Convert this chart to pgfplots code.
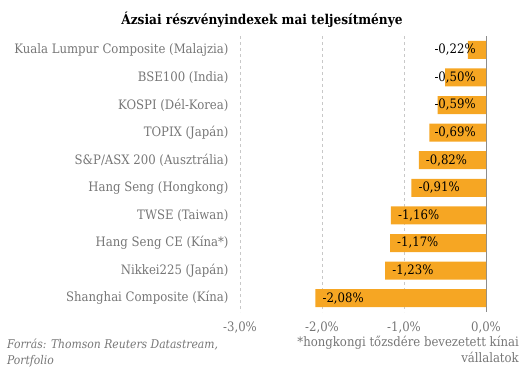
\documentclass[border=0pt]{standalone}
\usepackage{fontspec}
\setmainfont{DejaVu Serif Condensed}
\usepackage{pgfplots}
\pgfplotsset{compat=1.18}
\definecolor{barorange}{RGB}{246,166,35}
\definecolor{lblgray}{RGB}{118,118,118}
\definecolor{gridgray}{RGB}{200,200,200}
\newcommand{\zerolab}{0,0\%}
\begin{document}
\begin{tikzpicture}[x=1pt,y=1pt]
\path[use as bounding box] (0,0) rectangle (530,381);
\begin{axis}[
  at={(240pt,69pt)}, anchor=south west,
  scale only axis, width=246pt, height=276pt,
  xmin=-3, xmax=0, ymin=-0.5, ymax=9.5, y dir=reverse,
  axis line style={draw=none},
  xtick={-3,-2,-1}, xticklabels={{-3,0\%},{-2,0\%},{-1,0\%}},
  extra x ticks={0}, extra x tick labels={\zerolab},
  extra x tick style={grid style={solid, draw=gray!90, line width=0.8pt}},
  xmajorgrids, grid style={dashed, draw=gridgray, line width=0.6pt},
  major tick length=0pt,
  ytick={0,...,9},
  yticklabels={Kuala Lumpur Composite (Malajzia),BSE100 (India),KOSPI (Dél-Korea),TOPIX (Japán),S\&P/ASX 200 (Ausztrália),Hang Seng (Hongkong),TWSE (Taiwan),Hang Seng CE (Kína*),Nikkei225 (Japán),Shanghai Composite (Kína)},
  tick label style={font=\fontsize{13}{15}\selectfont, text=lblgray},
  yticklabel style={xshift=-8pt},
  xticklabel style={yshift=-6pt},
  clip=false,
]
\addplot[xbar, bar width=18pt, fill=barorange, draw=none, bar shift=0pt] coordinates {
  (-0.22,0) (-0.50,1) (-0.59,2) (-0.69,3) (-0.82,4) (-0.91,5) (-1.16,6) (-1.17,7) (-1.23,8) (-2.08,9)
};
\addplot[draw=none, mark=none, nodes near coords={\pgfplotspointmeta\%},
  point meta=explicit symbolic,
  every node near coord/.style={anchor=west, inner sep=0pt, font=\fontsize{13}{15}\selectfont, text=black}]
  table[meta=lab] {
  x y lab
  -0.63 0 -0,22
  -0.63 1 -0,50
  -0.63 2 -0,59
  -0.63 3 -0,69
  -0.735 4 -0,82
  -0.825 5 -0,91
  -1.075 6 -1,16
  -1.085 7 -1,17
  -1.145 8 -1,23
  -1.995 9 -2,08
};
\end{axis}
\node[font=\bfseries\fontsize{13.5}{16}\selectfont] at (262,361) {Ázsiai részvényindexek mai teljesítménye};
\node[anchor=north west, align=left, text=lblgray, font=\itshape\fontsize{12}{16}\selectfont, inner sep=0pt] at (7,42) {Forrás: Thomson Reuters Datastream,\\Portfolio};
\node[anchor=north east, align=right, text=lblgray, font=\fontsize{13}{16}\selectfont, inner sep=0pt] at (519,45) {*hongkongi tőzsdére bevezetett kínai\\vállalatok};
\end{tikzpicture}
\end{document}
